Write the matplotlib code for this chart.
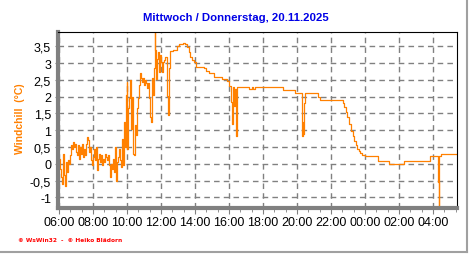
import numpy as np
import matplotlib
matplotlib.use('Agg')
import matplotlib.pyplot as plt
from matplotlib.ticker import FixedLocator, FuncFormatter

# Windchill readings (time of day, degC), Wed 06:00 -> Thu ~05:20
times = [
  '06:00','06:05','06:08','06:12','06:14','06:18','06:21','06:25','06:28','06:32',
  '06:35','06:39','06:42','06:46','06:49','06:53','06:56','07:00','07:04','07:07',
  '07:11','07:14','07:18','07:21','07:25','07:28','07:32','07:35','07:39','07:42',
  '07:46','07:49','07:53','07:56','08:00','08:04','08:07','08:11','08:14','08:18',
  '08:21','08:25','08:28','08:32','08:35','08:39','08:42','08:46','08:49','08:53',
  '08:56','09:00','09:04','09:07','09:11','09:14','09:18','09:21','09:25','09:28',
  '09:32','09:35','09:39','09:42','09:46','09:49','09:53','09:56','09:59','10:01',
  '10:05','10:08','10:11','10:14','10:18','10:21','10:25','10:28','10:32','10:35',
  '10:39','10:42','10:46','10:49','10:53','10:56','11:00','11:04','11:07','11:11',
  '11:14','11:18','11:21','11:25','11:28','11:32','11:35','11:38','11:40','11:42',
  '11:46','11:50','11:53','11:57','12:00','12:03','12:07','12:10','12:14','12:17',
  '12:21','12:23','12:27','12:30','12:43','12:50','12:55','13:04','13:16','13:25',
  '13:30','13:37','13:43','13:48','13:57','14:05','14:31','14:37','14:49','15:06',
  '15:35','15:53','16:01','16:08','16:10','16:14','16:17','16:20','16:22','16:26',
  '16:29','17:10','17:20','17:25','17:32','19:10','19:54','20:16','20:18','20:20',
  '20:22','20:25','20:28','20:30','21:13','21:22','22:35','22:41','22:47','22:52',
  '22:58','23:04','23:10','23:16','23:21','23:27','23:33','23:39','23:44','23:50',
  '23:59','00:46','01:25','02:17','03:50','04:16','04:20','04:22','04:29','05:20',
]
windchill = [
  0.15,-0.15,-0.40,-0.60,0.30,-0.35,-0.65,0.05,-0.25,0.10,
  0.00,0.25,0.55,0.45,0.65,0.50,0.60,0.35,0.25,0.55,
  0.15,0.50,0.30,0.60,0.20,0.45,0.25,0.60,0.80,0.70,
  0.35,0.50,0.10,-0.05,0.20,0.45,0.10,0.50,-0.20,0.15,
  0.30,0.05,0.25,-0.05,0.15,0.05,0.30,0.20,0.10,0.25,
  -0.05,-0.40,0.00,-0.15,0.15,-0.25,0.50,-0.50,0.05,0.20,
  0.45,0.10,-0.10,0.75,-0.05,1.25,0.50,2.05,2.45,0.45,
  1.65,1.95,2.50,1.05,2.00,0.30,0.25,1.15,0.85,1.65,
  1.95,2.35,2.70,2.55,2.45,2.55,2.35,2.50,2.40,2.25,
  2.40,1.95,1.40,1.25,2.55,2.05,2.85,3.95,3.40,2.53,
  3.13,3.32,2.73,3.23,3.03,2.73,3.03,3.08,3.18,3.18,
  2.03,1.45,2.85,3.35,3.38,3.40,3.50,3.57,3.60,3.57,
  3.47,3.33,3.18,3.08,3.03,2.90,2.86,2.76,2.70,2.58,
  2.53,2.48,2.33,1.83,1.19,2.28,1.73,2.03,2.23,0.84,
  2.28,2.22,2.28,2.22,2.28,2.20,2.12,1.20,0.84,1.25,
  0.90,1.80,2.11,2.11,1.98,1.90,1.90,1.82,1.69,1.54,
  1.39,1.19,0.99,0.84,0.69,0.55,0.45,0.38,0.32,0.27,
  0.22,0.08,0.00,0.08,0.22,-0.55,-1.40,0.22,0.28,0.28,
]

hours = []
for t in times:
  h = int(t[:2]) + int(t[3:]) / 60.0
  if h < 6:
    h += 24
  hours.append(h)

x_major = np.arange(6, 29, 2)
x_labels = ['%02d:00' % (h % 24) for h in x_major]
y_ticks = np.arange(-1, 3.51, 0.5)

fig = plt.figure(figsize=(4.72, 2.55), dpi=100)
ax = fig.add_axes([58/472, 1-209/255, 399/472, 176/255])

ax.plot(hours, windchill, color='#ff8000', linewidth=0.9, drawstyle='steps-post')

ax.set_xlim(5.94, 29.41)
ax.set_ylim(-1.32, 3.93)
ax.set_xticks(x_major)
ax.set_xticklabels(x_labels)
ax.xaxis.set_minor_locator(FixedLocator(np.arange(6, 29.4, 2/3)))
ax.set_yticks(y_ticks)
ax.yaxis.set_major_formatter(FuncFormatter(lambda v, p: ('%g' % v).replace('.', ',')))

ax.grid(which='major', color='#808080', linestyle=(0, (4, 3)), linewidth=1)
ax.tick_params(axis='both', which='both', colors='#808080', labelcolor='black',
               labelsize=9, direction='out')
ax.tick_params(axis='x', which='major', length=4, pad=2)
ax.tick_params(axis='x', which='minor', length=3)
ax.tick_params(axis='y', length=2, pad=3)
for lab in ax.get_xticklabels() + ax.get_yticklabels():
  lab.set_family('Liberation Sans')

ax.spines['left'].set_color('#808080')
ax.spines['left'].set_linewidth(3)
ax.spines['bottom'].set_color('#808080')
ax.spines['bottom'].set_linewidth(3)
ax.spines['top'].set_color('black')
ax.spines['right'].set_color('black')

fig.text(0.5, 1-18/255, 'Mittwoch / Donnerstag, 20.11.2025', ha='center', va='center',
         color='#0000e6', fontsize=8.2, fontweight='bold', family='Liberation Sans')
fig.text(20/472, 1-119/255, 'Windchill  (°C)', ha='center', va='center', rotation=90,
         color='#ff8000', fontsize=7.5, fontweight='bold', family='Liberation Sans')
fig.text(18/472, 1-241/255, '© WsWin32  -  © Heiko Blädorn', ha='left', va='center',
         color='#ff0000', fontsize=4.2, fontweight='bold', family='DejaVu Sans')

# outer frame lines (right and bottom)
fig.add_artist(plt.Line2D([467/472, 467/472], [1-253/255, 1], color='#a0a0a0', linewidth=1.5))
fig.add_artist(plt.Line2D([0, 467/472], [1-253/255, 1-253/255], color='#a0a0a0', linewidth=1.5))

fig.savefig('out.png', dpi=100)
